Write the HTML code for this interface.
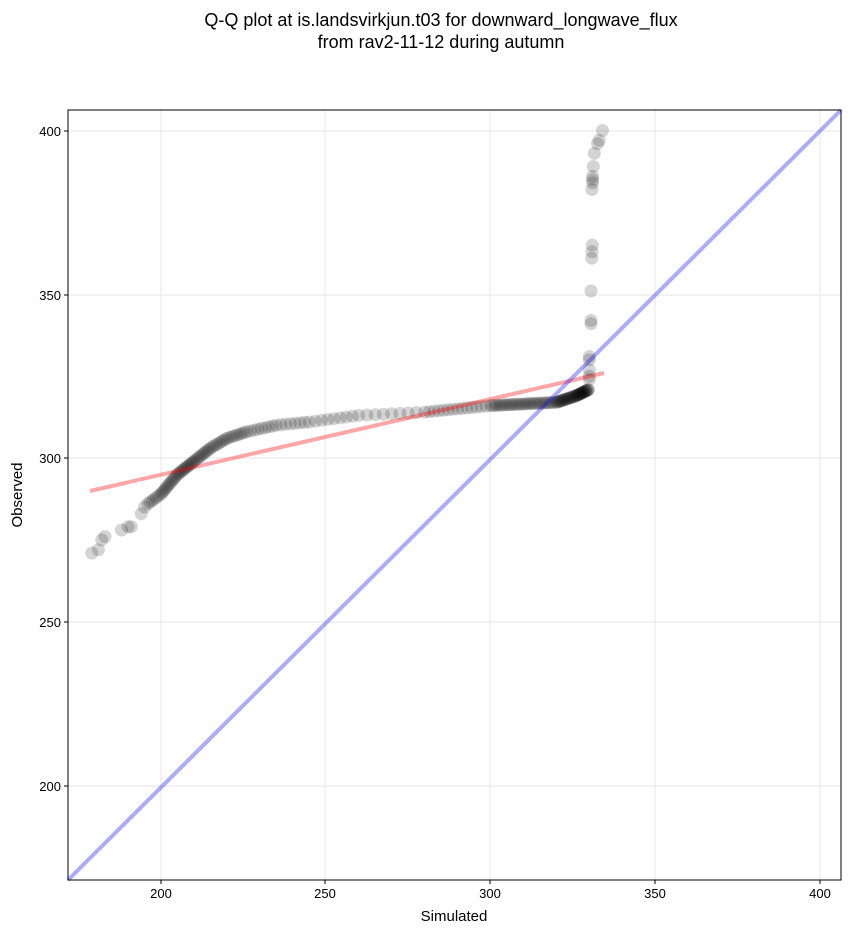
<!DOCTYPE html>
<html><head><meta charset="utf-8"><style>
body{margin:0;background:#fff;}
svg text{font-family:"Liberation Sans","DejaVu Sans",sans-serif;}
</style></head><body>
<svg id="s" width="851" height="934" xmlns="http://www.w3.org/2000/svg">
<rect width="851" height="934" fill="#fff"/>
<text x="441" y="26" font-size="18" text-anchor="middle">Q-Q plot at is.landsvirkjun.t03 for downward_longwave_flux</text>
<text x="441" y="48" font-size="18" text-anchor="middle">from rav2-11-12 during autumn</text>
<g stroke="#ebebeb" stroke-width="1.2">
<line x1="161" y1="110" x2="161" y2="880"/><line x1="325" y1="110" x2="325" y2="880"/>
<line x1="490" y1="110" x2="490" y2="880"/><line x1="655" y1="110" x2="655" y2="880"/>
<line x1="820" y1="110" x2="820" y2="880"/>
<line x1="68" y1="131" x2="841" y2="131"/><line x1="68" y1="295" x2="841" y2="295"/>
<line x1="68" y1="458" x2="841" y2="458"/><line x1="68" y1="622" x2="841" y2="622"/>
<line x1="68" y1="786" x2="841" y2="786"/>
</g>
<g id="pts"></g>
<line x1="90" y1="491" x2="604" y2="373" stroke="#f00" stroke-opacity="0.35" stroke-width="4"/>
<line x1="68" y1="880" x2="841" y2="110" stroke="#00f" stroke-opacity="0.33" stroke-width="4"/>
<rect x="68" y="110" width="773" height="770" fill="none" stroke="#000" stroke-width="1"/>
<g font-size="13" text-anchor="middle">
<text x="161" y="898">200</text><text x="325" y="898">250</text><text x="490" y="898">300</text><text x="655" y="898">350</text><text x="820" y="898">400</text>
</g>
<g font-size="13" text-anchor="end">
<text x="61" y="136">400</text><text x="61" y="300">350</text><text x="61" y="463">300</text><text x="61" y="627">250</text><text x="61" y="791">200</text>
</g>
<g stroke="#000"><line x1="161" y1="880" x2="161" y2="884"/><line x1="325" y1="880" x2="325" y2="884"/><line x1="490" y1="880" x2="490" y2="884"/><line x1="655" y1="880" x2="655" y2="884"/><line x1="820" y1="880" x2="820" y2="884"/>
<line x1="64" y1="131" x2="68" y2="131"/><line x1="64" y1="295" x2="68" y2="295"/><line x1="64" y1="458" x2="68" y2="458"/><line x1="64" y1="622" x2="68" y2="622"/><line x1="64" y1="786" x2="68" y2="786"/></g>
<text x="454" y="921" font-size="15" text-anchor="middle">Simulated</text>
<text x="22" y="495" font-size="15" text-anchor="middle" transform="rotate(-90 22 495)">Observed</text>
</svg>
<script>
function X(v){return 161+(v-200)*3.295;}
function Y(v){return 458-(v-300)*3.275;}
var pts=[[179,271],[181,272],[182,275],[183,276],[188,278],[190,279],[191,279],[194,283],[195,285]];
var seg=[[196,286],[200,289],[205,295],[210,299],[215,303],[220,306],[226,308],[235,310],[245,311],[260,313],[280,314],[300,316],[320,317],[326,319],[330,321]];
var n=[6,12,12,10,8,8,8,7,8,8,14,30,18,18];
for(var i=0;i<seg.length-1;i++){for(var k=0;k<n[i];k++){var t=k/n[i];pts.push([seg[i][0]+t*(seg[i+1][0]-seg[i][0]),seg[i][1]+t*(seg[i+1][1]-seg[i][1])]);}}
var topPts=[[330,324],[330,325],[330,327],[330,330],[330,331],[330.5,341],[330.5,342],[330.5,351],[330.7,361],[330.8,363],[330.9,365],[330.8,382],[331,384],[331,385],[331,386],[331.2,389],[331.5,393],[332.5,396],[333,397],[334,400]];
pts=pts.concat(topPts);
var g=document.getElementById('pts'),h='';
pts.forEach(function(p){h+='<circle cx="'+X(p[0]).toFixed(1)+'" cy="'+Y(p[1]).toFixed(1)+'" r="6.5" fill="#000" fill-opacity="0.17"/>';});
g.innerHTML=h;
</script>
</body></html>
